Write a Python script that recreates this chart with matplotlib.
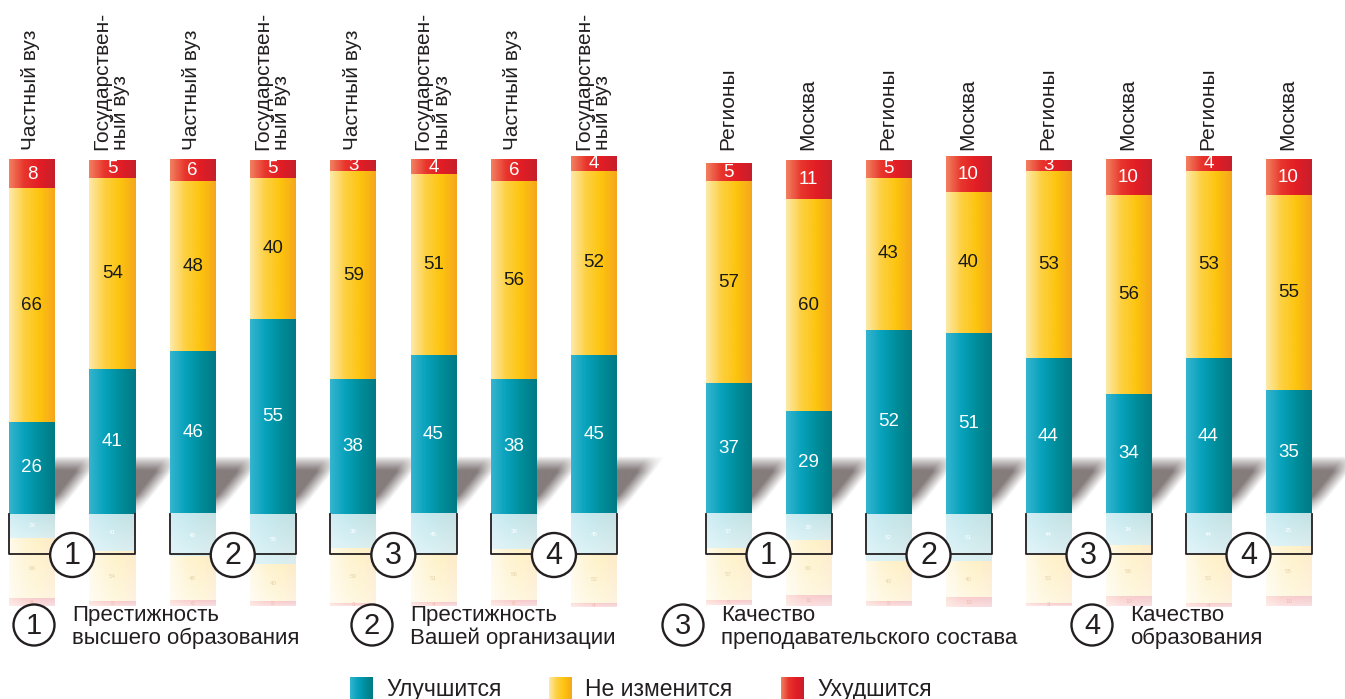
import numpy as np
import matplotlib
matplotlib.use('Agg')
import matplotlib.pyplot as plt
from matplotlib.colors import LinearSegmentedColormap, to_rgb
from matplotlib.patches import Circle

plt.rcParams['font.family'] = ['Liberation Sans', 'DejaVu Sans']

# данные
labels_left = ['Частный вуз', 'Государствен-\nный вуз'] * 4
labels_right = ['Регионы', 'Москва'] * 4
better_left = [26, 41, 46, 55, 38, 45, 38, 45]
same_left = [66, 54, 48, 40, 59, 51, 56, 52]
worse_left = [8, 5, 6, 5, 3, 4, 6, 4]
better_right = [37, 29, 52, 51, 44, 34, 44, 35]
same_right = [57, 60, 43, 40, 53, 56, 53, 55]
worse_right = [5, 11, 5, 10, 3, 10, 4, 10]
group_numbers = ['1', '2', '3', '4']
captions = [('Престижность', 'высшего образования'),
            ('Престижность', 'Вашей организации'),
            ('Качество', 'преподавательского состава'),
            ('Качество', 'образования')]
legend_labels = ['Улучшится', 'Не изменится', 'Ухудшится']

# геометрия
W, H = 1345, 699
BASE = 514          # линия основания, px сверху
PX = 3.54           # px на 1 %
R = 0.26            # сжатие отражения
BAR_W = 46
TXT = '#231f20'

cmaps = [
    LinearSegmentedColormap.from_list('teal', ['#35b4cf', '#07a2bc', '#008d9b', '#007a84']),
    LinearSegmentedColormap.from_list('yel', ['#fee9a8', '#fdd041', '#fdc40e', '#f6a61c']),
    LinearSegmentedColormap.from_list('red', ['#f2805f', '#e8352c', '#e21d25', '#c71f2c']),
]
text_colors = ['white', '#1a1a1a', 'white']
refl_text_colors = ['#ffffff', '#e6d3a8', '#f2b9a9']

fig = plt.figure(figsize=(W / 100, H / 100), dpi=100)
ax = fig.add_axes([0, 0, 1, 1])
ov = fig.add_axes([0, 0, 1, 1])
ov.patch.set_alpha(0)


def shadow_image():
    """Размытая серая тень, падающая от столбика вправо-вверх"""
    u = np.linspace(0, 1, 60)[None, :]
    v = np.linspace(0, 1, 80)[:, None]
    a = np.clip((v - u) / 0.4 + 0.2, 0, 1)
    a *= np.clip((1 - v) / 0.28, 0, 1) ** 0.8
    a *= np.clip(v / 0.3, 0, 1) ** 0.6
    img = np.zeros((80, 60, 4))
    img[..., :3] = to_rgb('#857c7c')
    img[..., 3] = np.clip(a * 1.1, 0, 1)
    return img


SHADOW = shadow_image()


def draw_stack(xs, series):
    bottom = np.zeros(len(xs))
    for k, vals in enumerate(series):
        vals = np.array(vals, dtype=float)
        rgb = cmaps[k](np.linspace(0, 1, 64))[:, :3]
        bars = ax.bar(xs, vals, BAR_W, bottom=bottom, color='none', linewidth=0)
        for rect, v in zip(bars, vals):
            x0, y0 = rect.get_x(), rect.get_y()
            ax.imshow(rgb[None, :, :], extent=(x0, x0 + BAR_W, y0, y0 + v),
                      aspect='auto', zorder=3, interpolation='bilinear')
            ax.text(x0 + BAR_W / 2, y0 + v / 2, f'{int(v)}', ha='center', va='center',
                    color=text_colors[k], fontsize=13.5, zorder=5)
        # отражение
        refl = ax.bar(xs, -vals * R, BAR_W, bottom=-bottom * R, color='none', linewidth=0)
        fade = np.linspace(0.23, 0.14, 20)[:, None, None]
        rimg = 1 - fade * (1 - rgb[None, :, :])
        for rect, v in zip(refl, vals):
            x0 = rect.get_x()
            y_top = rect.get_y()
            y_bot = y_top + rect.get_height()
            ax.imshow(rimg, extent=(x0, x0 + BAR_W, y_bot, y_top),
                      aspect='auto', zorder=3, interpolation='bilinear')
            ax.text(x0 + BAR_W / 2, (y_top + y_bot) / 2, f'{int(v)}', ha='center', va='center',
                    color=refl_text_colors[k], fontsize=4.5, zorder=5)
        bottom += vals
    # тени
    for x in xs:
        ax.imshow(SHADOW, extent=(x + BAR_W / 2, x + BAR_W / 2 + 46, 0.4, 58 / PX),
                  origin='lower', aspect='auto', zorder=2, interpolation='bilinear')


def draw_brackets(xs):
    for k in range(4):
        xa, xb = xs[2 * k], xs[2 * k + 1]
        lx, rx = xa - BAR_W / 2, xb + BAR_W / 2
        cx, cy, r, yb = (xa + xb) / 2, 555, 22, 554
        ov.plot([lx, lx, cx - r], [BASE, yb, yb], color=TXT, lw=1.3, zorder=6)
        ov.plot([cx + r, rx, rx], [yb, yb, BASE], color=TXT, lw=1.3, zorder=6)
        ov.add_patch(Circle((cx, cy), r, facecolor='white', edgecolor=TXT, lw=1.7, zorder=7))
        ov.text(cx, cy + 1, group_numbers[k], ha='center', va='center', fontsize=22,
                color=TXT, zorder=8)


xs_left = 32 + 80.3 * np.arange(8)
xs_right = 728.5 + 80 * np.arange(8)

for xs, b, s, w, labs in [(xs_left, better_left, same_left, worse_left, labels_left),
                          (xs_right, better_right, same_right, worse_right, labels_right)]:
    draw_stack(xs, [b, s, w])
    draw_brackets(xs)
    for x, lab in zip(xs, labs):
        ov.text(x - 1, 150, lab, rotation=90, rotation_mode='anchor', ha='left', va='center',
                fontsize=15, color=TXT, linespacing=1.0)

# подписи групп
for num, (l1, l2), cx in zip(group_numbers, captions, [34, 372, 683, 1092]):
    ov.add_patch(Circle((cx, 625), 20.5, facecolor='white', edgecolor=TXT, lw=1.7, zorder=7))
    ov.text(cx, 626, num, ha='center', va='center', fontsize=21, color=TXT, zorder=8)
    ov.text(cx + 38, 621, l1, ha='left', va='baseline', fontsize=16, color=TXT)
    ov.text(cx + 38, 644, l2, ha='left', va='baseline', fontsize=16, color=TXT)

# легенда
for k, (lab, x0) in enumerate(zip(legend_labels, [350, 549, 781])):
    rgb = cmaps[k](np.linspace(0, 1, 64))[:, :3]
    ov.imshow(rgb[None, :, :], extent=(x0, x0 + 23, 700, 677), aspect='auto',
              interpolation='bilinear', zorder=5)
    ov.text(x0 + 36, 696, lab, ha='left', va='baseline', fontsize=16.5, color=TXT)

ax.set_xlim(0, W)
ax.set_ylim(-(H - BASE) / PX, BASE / PX)
ax.axis('off')
ov.set_xlim(0, W)
ov.set_ylim(H, 0)
ov.axis('off')

fig.savefig('out.png', dpi=100)
